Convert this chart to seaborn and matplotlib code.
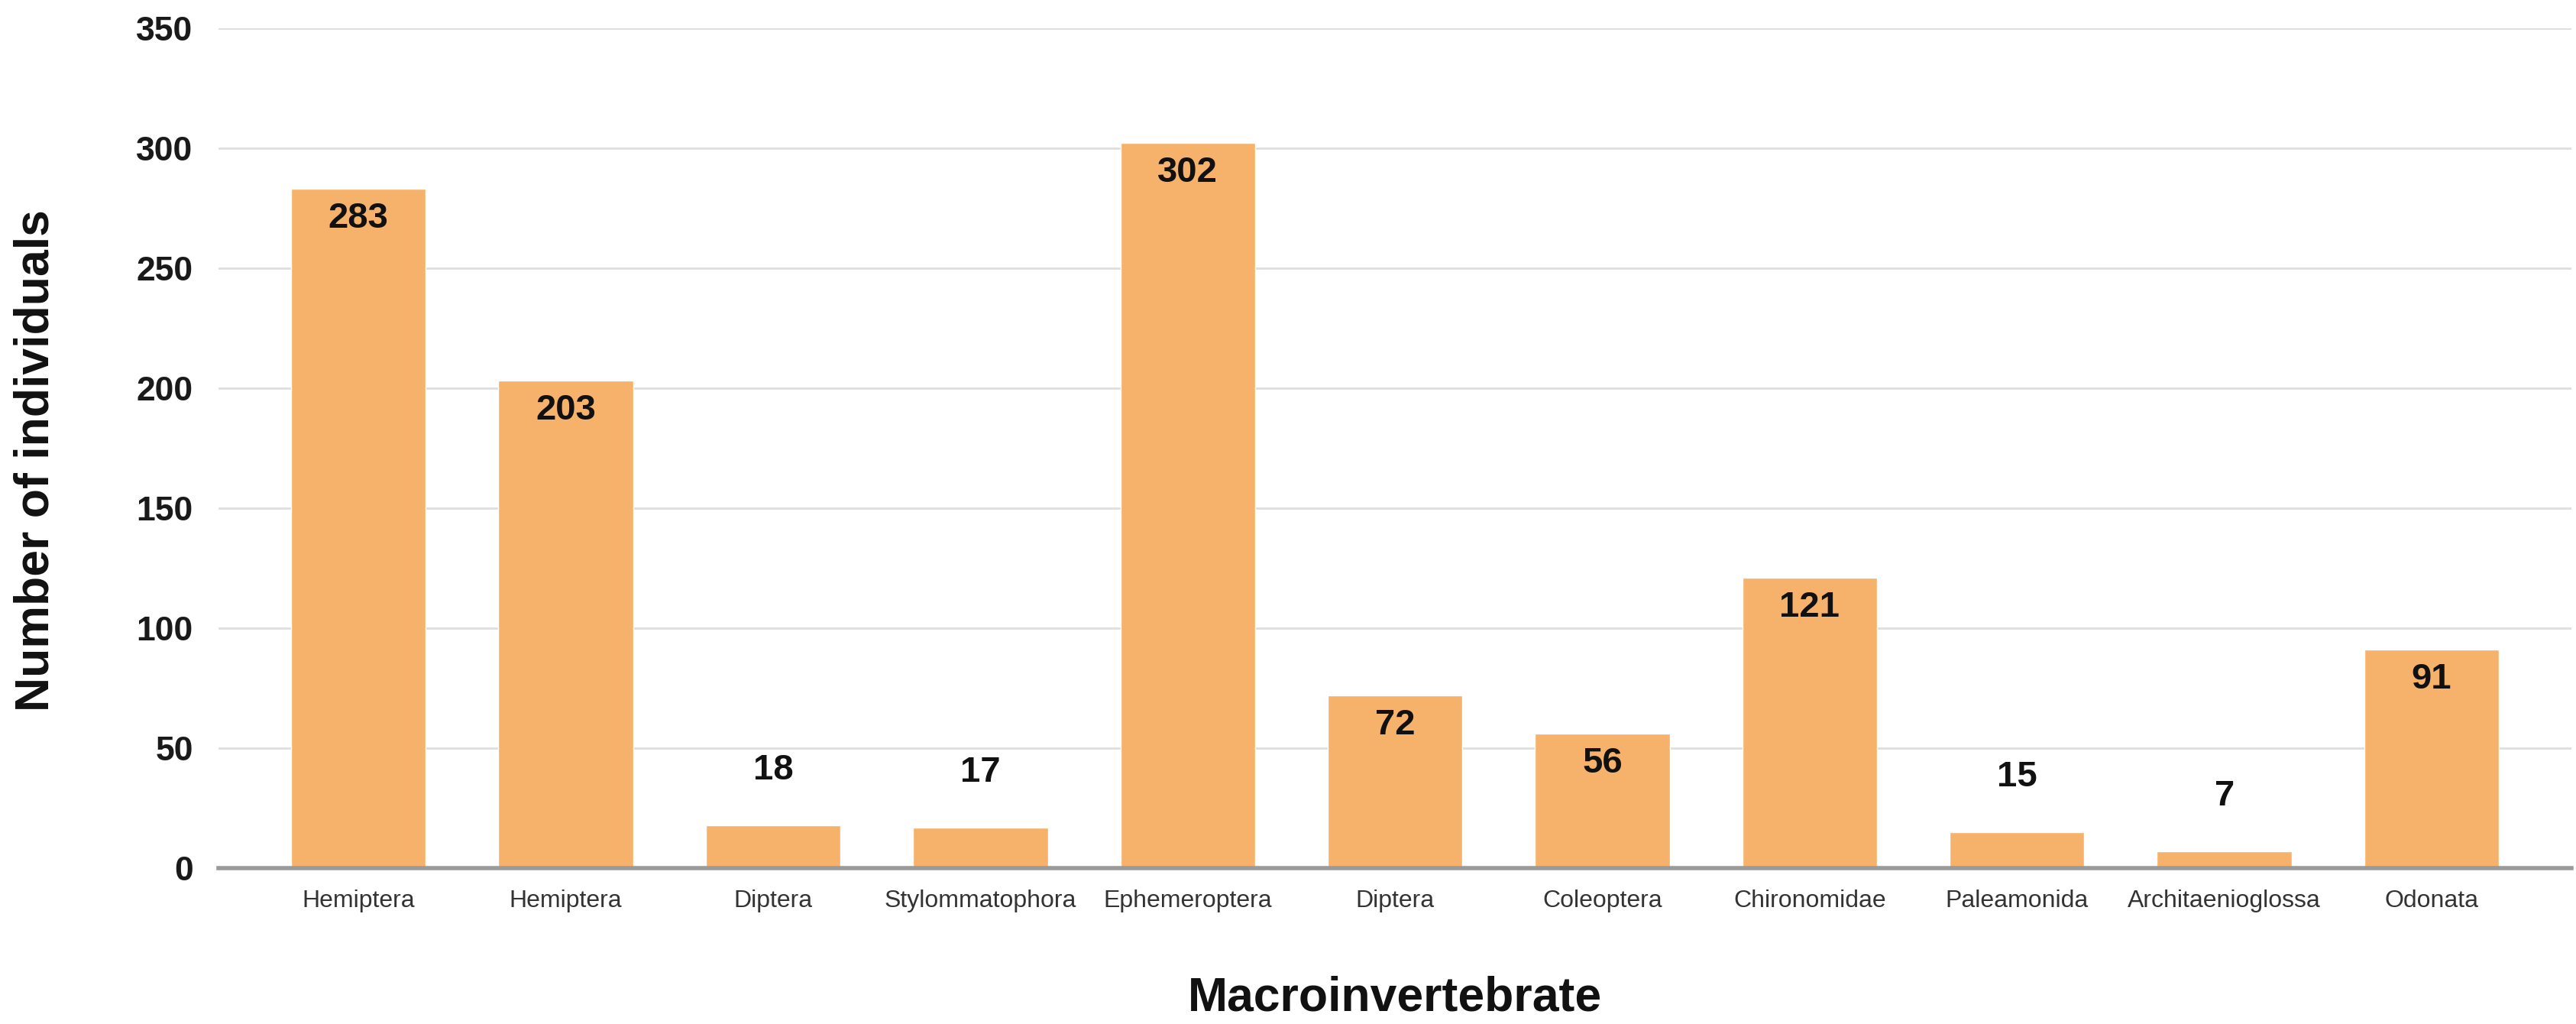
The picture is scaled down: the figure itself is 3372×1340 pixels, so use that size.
import numpy as np
import pandas as pd
import matplotlib
matplotlib.use("Agg")
import matplotlib.pyplot as plt
import seaborn as sns

# order labels as shown on the chart (two Hemiptera and two Diptera entries)
taxa = ["Hemiptera", "Hemiptera", "Diptera", "Stylommatophora", "Ephemeroptera",
        "Diptera", "Coleoptera", "Chironomidae", "Paleamonida", "Architaenioglossa",
        "Odonata"]
counts = [283, 203, 18, 17, 302, 72, 56, 121, 15, 7, 91]
y_ticks = [0, 50, 100, 150, 200, 250, 300, 350]


def create_plot(df):
    sns.set_style("white")
    plt.rcParams['font.family'] = ['Liberation Sans', 'DejaVu Sans']

    fig = plt.figure(figsize=(33.73, 13.4), dpi=100)
    ax = fig.add_axes([0.0848, 0.152, 0.9132, 0.8207])

    sns.barplot(data=df, x='pos', y='count', color='#F6B26B', width=0.65,
                saturation=1, errorbar=None, ax=ax, zorder=3)

    ax.set_ylim(0, 350)
    ax.set_xlim(-0.675, len(taxa) - 1 + 0.675)
    ax.set_yticks(y_ticks)
    ax.set_yticklabels([str(t) for t in y_ticks], fontsize=32, fontweight='bold', color='#1a1a1a')
    ax.set_xticks(range(len(taxa)))
    ax.set_xticklabels(taxa, fontsize=23, color='#333333')
    ax.tick_params(axis='y', length=0, pad=24)
    ax.tick_params(axis='x', length=0, pad=20)

    ax.grid(axis='y', color='#dedede', linewidth=2, zorder=0)
    for s in ['top', 'right', 'left']:
        ax.spines[s].set_visible(False)
    ax.spines['bottom'].set_color('#9a9a9a')
    ax.spines['bottom'].set_linewidth(4)
    ax.spines['bottom'].set_zorder(4)

    # value labels: inside the bar top when there is room, above otherwise
    for i, v in enumerate(df['count']):
        off = -28 if v >= 40 else 52
        ax.annotate(str(v), (i, v), xytext=(0, off), textcoords='offset points',
                    ha='center', va='center', fontsize=34, fontweight='bold',
                    color='#111111', zorder=5)

    ax.set_xlabel('')
    ax.set_ylabel('')
    fig.text(0.0848 + 0.9132 / 2, 1 - 1306 / 1340, 'Macroinvertebrate', ha='center',
             va='center', fontsize=45, fontweight='bold', color='#111111')
    fig.text(47 / 3373, 0.55, 'Number of individuals', ha='center', va='center',
             rotation=90, fontsize=45, fontweight='bold', color='#111111')
    return fig


def main():
    df = pd.DataFrame({'pos': np.arange(len(taxa)), 'taxon': taxa, 'count': counts})
    fig = create_plot(df)
    fig.savefig("out.png", dpi=100, facecolor='white')


if __name__ == "__main__":
    main()
